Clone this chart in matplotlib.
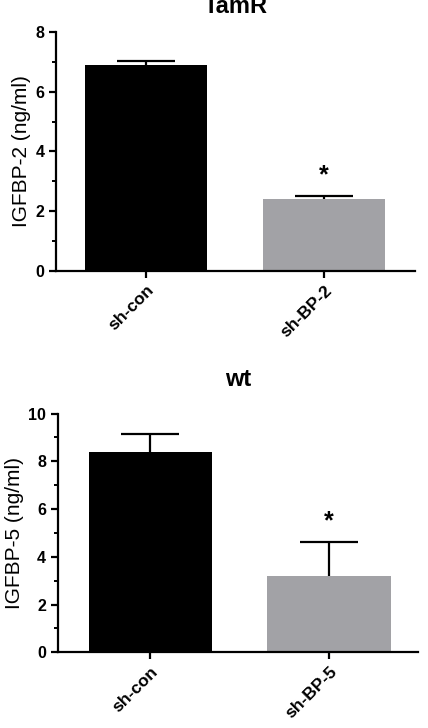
import matplotlib.pyplot as plt
import numpy as np

plt.rcParams["font.family"] = ["Liberation Sans", "DejaVu Sans"]

groups_top = ["sh-con", "sh-BP-2"]
means_top = [6.89, 2.39]
errs_top = [0.14, 0.10]

groups_bot = ["sh-con", "sh-BP-5"]
means_bot = [8.38, 3.19]
errs_bot = [0.78, 1.41]

colors = ["#000000", "#a2a2a6"]


def draw_panel(ax, groups, means, errs, ymax, ylabel, title, xlim, width, tpad):
    x = np.arange(len(groups))
    ax.bar(x, means, width=width, color=colors, zorder=2)
    _, caps, _ = ax.errorbar(x, means, yerr=[np.zeros(len(errs)), errs], fmt="none",
                             ecolor="black", elinewidth=1.6, capsize=21,
                             capthick=1.6, zorder=3)
    caps[0].set_visible(False)  # only upper caps
    ax.text(x[1], means[1] + errs[1] + ymax * 0.09, "*", ha="center", va="center",
            fontsize=18, fontweight="bold")
    ax.set_xlim(*xlim)
    ax.set_ylim(0, ymax)
    ax.set_yticks(np.arange(0, ymax + 1, 2))
    ax.set_yticks(np.arange(1, ymax, 2), minor=True)
    ax.set_xticks(x)
    ax.set_xticklabels(groups, rotation=45, ha="right", rotation_mode="anchor",
                       fontsize=12.5, fontweight="bold")
    for lab in ax.get_yticklabels():
        lab.set_fontweight("bold")
        lab.set_fontsize(11.5)
    ax.set_ylabel(ylabel, fontsize=15, labelpad=3)
    ax.set_title(title, fontsize=17, fontweight="bold", pad=tpad)
    for s in ["top", "right"]:
        ax.spines[s].set_visible(False)
    for s in ["left", "bottom"]:
        ax.spines[s].set_linewidth(1.6)
    ax.tick_params(axis="both", which="major", width=1.6, length=5)
    ax.tick_params(axis="y", which="minor", width=1.4, length=3)


fig = plt.figure(figsize=(4.28, 7.28), dpi=100)
ax1 = fig.add_axes([0.131, 0.628, 0.839, 0.328])
ax2 = fig.add_axes([0.1355, 0.104, 0.8415, 0.328])

draw_panel(ax1, groups_top, means_top, errs_top, 8, "IGFBP-2 (ng/ml)", "TamR",
           (-0.506, 1.511), 0.685, 14)
draw_panel(ax2, groups_bot, means_bot, errs_bot, 10, "IGFBP-5 (ng/ml)", "wt",
           (-0.518, 1.499), 0.69, 20)

fig.savefig("out.png", dpi=100)
